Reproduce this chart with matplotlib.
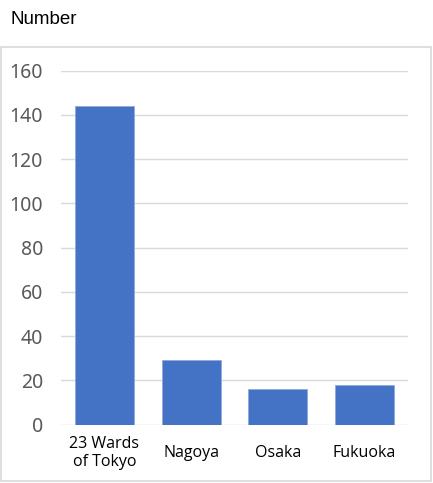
import matplotlib.pyplot as plt
from matplotlib.patches import Rectangle

# data
cities = ["23 Wards\nof Tokyo", "Nagoya", "Osaka", "Fukuoka"]
counts = [144, 29, 16, 18]
yticks = [0, 20, 40, 60, 80, 100, 120, 140, 160]

W, H = 433, 483
fig = plt.figure(figsize=(W / 100, H / 100), dpi=100)

# outer chart frame
fig.patches.append(Rectangle((1 / W, 1 - 481 / H), 430 / W, 434 / H,
                             transform=fig.transFigure, fill=False,
                             edgecolor="#d9d9d9", linewidth=1.2))

fig.text(10 / W, 1 - 19 / H, "Number", fontsize=13.5, family="Liberation Sans",
         va="center", ha="left", color="black")

left, right = 61 / W, 408 / W
top, bottom = 1 - 70.7 / H, 1 - 424.5 / H
ax = fig.add_axes([left, bottom, right - left, top - bottom])

x = range(len(cities))
ax.bar(x, counts, width=0.68, color="#4472C4", edgecolor="#8eaadc",
       linewidth=0.6, zorder=3)

ax.set_xlim(-0.5, len(cities) - 0.5)
ax.set_ylim(0, 160)
ax.set_yticks(yticks)
ax.grid(axis="y", color="#d9d9d9", linewidth=1, zorder=0)
for s in ax.spines.values():
    s.set_visible(False)

ax.tick_params(axis="y", length=0, pad=13, labelsize=14, labelcolor="#595959")
for lab in ax.get_yticklabels():
    lab.set_family("Noto Sans")

ax.set_xticks(list(x))
ax.set_xticklabels(cities, fontsize=11.5, family="Open Sans", linespacing=1.1)
ax.tick_params(axis="x", length=0, pad=20.5)
for lab in ax.get_xticklabels():
    lab.set_va("center")

fig.savefig("out.png", dpi=100)
